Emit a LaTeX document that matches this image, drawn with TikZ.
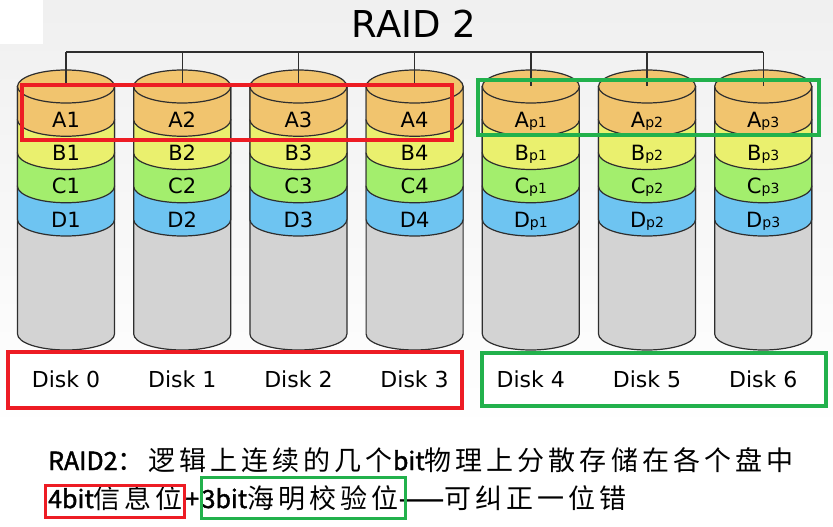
\documentclass[tikz,border=0pt]{standalone}
\usepackage{fontspec}
\usetikzlibrary{positioning}
\newfontfamily\dv{DejaVu Sans}
\newfontfamily\cjk[LetterSpace=15]{Noto Sans CJK SC}
\newfontfamily\lat[FakeBold=1.6]{Noto Sans CJK SC}
\definecolor{bandA}{HTML}{F1C46E}
\definecolor{bandB}{HTML}{EAF06E}
\definecolor{bandC}{HTML}{A3EE6D}
\definecolor{bandD}{HTML}{6EC4F1}
\definecolor{body}{HTML}{D3D3D3}
\definecolor{edge}{HTML}{2E2E2E}
\definecolor{markred}{HTML}{ED1C24}
\definecolor{markgreen}{HTML}{22B14C}
\newcommand\psub[1]{{\fontsize{14}{14}\selectfont p#1}}
\newcommand\cjktext[1]{{\cjk\fontsize{27}{27}\selectfont #1}}

\begin{document}
\begin{tikzpicture}[x=1pt, y=1pt,
    disk/.style={draw=edge, line width=1.2pt},
    bus/.style={draw=edge, line width=1.4pt},
    cell/.style={font=\dv\fontsize{21}{21}\selectfont, inner sep=0pt, anchor=base},
    disklabel/.style={font=\dv\fontsize{22}{22}\selectfont, inner sep=0pt},
    redmark/.style={draw=markred, line width=4pt},
    greenmark/.style={draw=markgreen, line width=4pt},
    note/.style={font=\lat\fontsize{25}{25}\selectfont, inner sep=0pt, anchor=base west}]
    \useasboundingbox (0,0) rectangle (833,-527);
    \fill[white] (0,0) rectangle (833,-527);
    \shade[top color=black!6, bottom color=white] (0,0) rectangle (833,-430);
    \fill[white] (0,0) rectangle (43,-44);

    \node[font=\dv\fontsize{37}{37}\selectfont, inner sep=0pt] (title) at (414,-23.5) {RAID 2};

    % the seven disks
    \foreach \d in {0,...,6} {
      \pgfmathsetmacro\x{66+116.2*\d}
      \coordinate (bus\d) at (\x,-52);
      \coordinate (top\d) at (\x,-86.5);
      \filldraw[disk, fill=body] (\x-48.5,-86.5) -- (\x-48.5,-334)
        arc[start angle=180, end angle=360, x radius=48.5, y radius=16] -- (\x+48.5,-86.5) -- cycle;
      \foreach \k/\col in {4/bandD, 3/bandC, 2/bandB, 1/bandA} {
        \filldraw[disk, fill=\col] (\x-48.5,-53.25-33.25*\k) -- (\x-48.5,-86.5-33.25*\k)
          arc[start angle=180, end angle=360, x radius=48.5, y radius=16.5] -- (\x+48.5,-53.25-33.25*\k) -- cycle;
      }
      \filldraw[disk, fill=bandA] (\x,-86.5) ellipse[x radius=48.5, y radius=16.5];
    }

    \draw[bus] (bus0) -- (bus6);
    \foreach \d in {0,...,6} \draw[bus] (bus\d) -- (top\d);

    \draw[redmark, fill=white] (8,-352) rectangle (462,-408);
    \draw[greenmark, fill=white] (482,-353) rectangle (826,-406);

    % labels
    \foreach \d in {0,...,6} {
      \pgfmathsetmacro\x{66+116.2*\d}
      \pgfmathtruncatemacro\n{\d+1}
      \pgfmathtruncatemacro\m{\d-3}
      \foreach \L [count=\k] in {A,B,C,D} {
        \ifnum\d<4
          \node[cell] (\L\d) at (\x,-94.15-33.25*\k) {\L\n};
        \else
          \node[cell] (\L\d) at (\x,-94.15-33.25*\k) {\L\psub{\m}};
        \fi
      }
      \node[disklabel] (disk\d) at (\x,-379) {Disk \d};
    }

    \draw[redmark] (22,-85) rectangle (452,-140);
    \draw[greenmark] (478,-80) rectangle (819,-135);

    % notes
    \node[note] (line1) at (48,-470) {RAID2\cjktext{：逻辑上连续的几个}bit\cjktext{物理上分散存储在各个盘中}};
    \node[note] (info) at (48,-508) {4bit\cjktext{信息位}};
    \node[note] (plus) at ([xshift=2pt]info.base east) {+};
    \node[note] (hamming) at ([xshift=2pt]plus.base east) {3bit\cjktext{海明校验位}};
    \node[note] (rest) at (hamming.base east) {{\fontsize{27}{27}\selectfont ——}\cjktext{可纠正一位错}};
    \draw[markred, line width=3pt] (45,-485) rectangle (184,-517);
    \draw[markgreen, line width=3pt] (201,-477) rectangle (405,-518);
  \end{tikzpicture}
\end{document}
